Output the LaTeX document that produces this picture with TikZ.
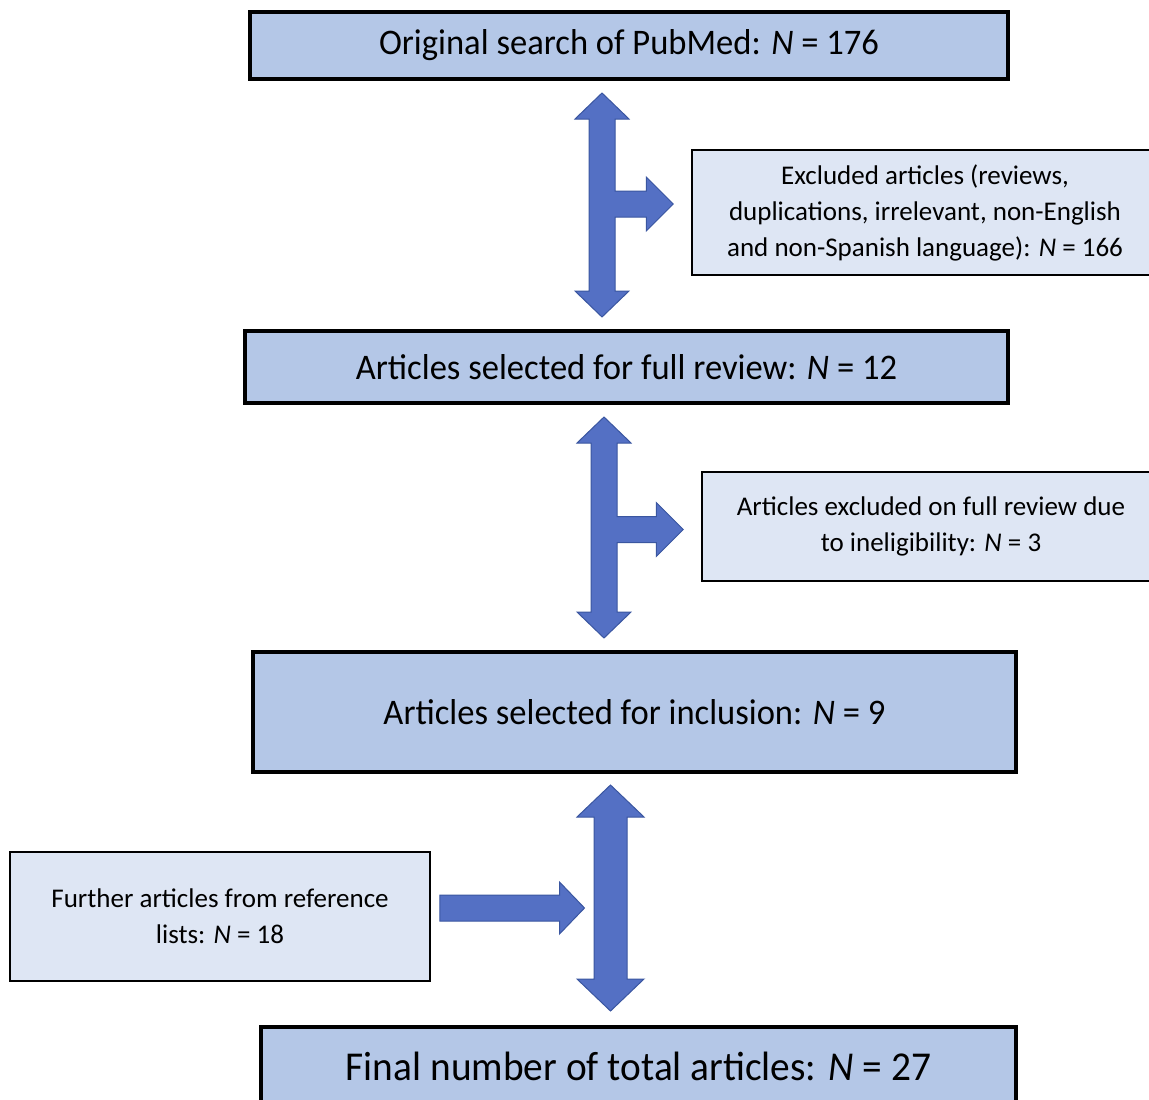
\documentclass[tikz,border=0pt]{standalone}
\usepackage{fontspec}
\setmainfont{Carlito}
\newfontfamily\narrowfont[FakeStretch=0.96]{Carlito}
\usetikzlibrary{calc}
\definecolor{boitebleu}{HTML}{B4C7E7}
\definecolor{boitepale}{HTML}{DEE6F4}
\definecolor{flechebleu}{HTML}{5470C4}
\definecolor{flechebord}{HTML}{3A56A0}

% fleche en T : #1 boite du haut, #2 boite du bas, #3 boite de cote, #4 axe (x du fut, y de la branche)
\newcommand{\flecheT}[4]{%
  \draw[fleche] let \p1 = ($(#1.south)+(0,12)$), \p2 = ($(#2.north)+(0,-12)$),
                    \p3 = ($(#3.west)+(-18,0)$), \p4 = (#4) in
    (\x4,\y1) -- (\x4+27pt,\y1-26pt) -- (\x4+13pt,\y1-26pt)
    -- (\x4+13pt,\y4+13pt) -- (\x3-27pt,\y4+13pt) -- (\x3-27pt,\y4+27pt) -- (\x3,\y4)
    -- (\x3-27pt,\y4-27pt) -- (\x3-27pt,\y4-13pt) -- (\x4+13pt,\y4-13pt)
    -- (\x4+13pt,\y2+26pt) -- (\x4+27pt,\y2+26pt) -- (\x4,\y2) -- (\x4-27pt,\y2+26pt)
    -- (\x4-13pt,\y2+26pt) -- (\x4-13pt,\y1-26pt) -- (\x4-27pt,\y1-26pt) -- cycle;}

\begin{document}
\begin{tikzpicture}[x=1pt, y=-1pt,
  etape/.style={draw, line width=4pt, fill=boitebleu,
    font=\narrowfont\fontsize{36}{42}\selectfont},
  note/.style={draw, line width=1.5pt, fill=boitepale, align=center,
    font=\fontsize{27}{36}\selectfont},
  fleche/.style={fill=flechebleu, draw=flechebord, line width=1pt}]

  \useasboundingbox (0,0) rectangle (1149,1100);

  % Boites principales
  \node[etape, minimum width=758, minimum height=67] (recherche) at (629,45.5)
    {Original search of PubMed: \textit{N} = 176};
  \node[etape, minimum width=763, minimum height=72] (revue) at (626.5,367)
    {Articles selected for full review: \textit{N} = 12};
  \node[etape, minimum width=763, minimum height=120] (inclus) at (634.5,712)
    {Articles selected for inclusion: \textit{N} = 9};
  \node[etape, minimum width=755, minimum height=78,
    font=\narrowfont\fontsize{41}{46}\selectfont] (final) at (638.5,1066)
    {Final number of total articles: \textit{N} = 27};

  % Boites laterales
  \node[note, minimum width=466, minimum height=125] (exclus) at (925,212.5)
    {Excluded articles (reviews,\\duplications, irrelevant, non-English\\and non-Spanish language): \textit{N} = 166};
  \node[note, minimum width=458, minimum height=109] (inelig) at (931,526.5)
    {Articles excluded on full review due\\to ineligibility: \textit{N} = 3};
  \node[note, minimum width=420, minimum height=129] (refs) at (220,916.5)
    {Further articles from reference\\lists: \textit{N} = 18};

  % Axes des fleches
  \coordinate (axe1) at (602,204);
  \coordinate (axe2) at (604,529.5);
  \coordinate (jonction) at (610.5,908);

  % Fleches en T
  \flecheT{recherche}{revue}{exclus}{axe1}
  \flecheT{revue}{inclus}{inelig}{axe2}

  % Fleche double du bas
  \draw[fleche] let \p1 = ($(inclus.south)+(0,11)$), \p2 = ($(final.north)+(0,-14)$),
                    \p4 = (jonction) in
    (\x4,\y1) -- (\x4+33.5pt,\y1-32pt) -- (\x4+16.5pt,\y1-32pt) -- (\x4+16.5pt,\y2+32pt)
    -- (\x4+33.5pt,\y2+32pt) -- (\x4,\y2) -- (\x4-33.5pt,\y2+32pt) -- (\x4-16.5pt,\y2+32pt)
    -- (\x4-16.5pt,\y1-32pt) -- (\x4-33.5pt,\y1-32pt) -- cycle;

  % Fleche des references
  \draw[fleche] let \p1 = ($(refs.east)+(9,0)$), \p4 = ($(jonction)+(-26,0)$) in
    (\x1,\y4+13pt) -- (\x4-25pt,\y4+13pt) -- (\x4-25pt,\y4+26pt) -- (\x4,\y4)
    -- (\x4-25pt,\y4-26pt) -- (\x4-25pt,\y4-13pt) -- (\x1,\y4-13pt) -- cycle;

\end{tikzpicture}
\end{document}
